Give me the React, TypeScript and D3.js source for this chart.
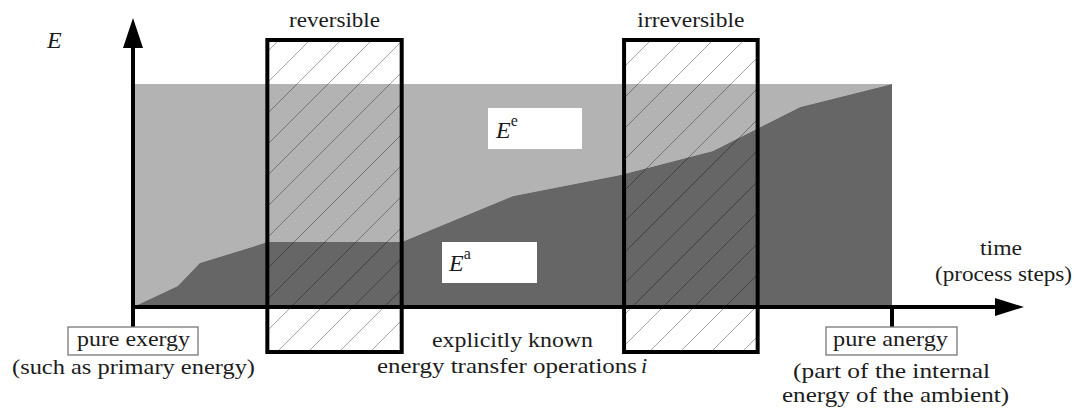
import React from "react";
import * as d3 from "d3";

// ---- data (normalised process time, energy shares) ----
const processTime = [0, 0.059, 0.088, 0.177, 0.354, 0.501, 0.642, 0.764, 0.879, 1];
const anergyShare = [0, 0.094, 0.197, 0.291, 0.291, 0.498, 0.592, 0.7, 0.897, 1];
const totalEnergy = 1;
const operationNames = ["reversible", "irreversible"];
const operationStart = [0.177, 0.647];
const operationEnd = [0.354, 0.823];

const W = 1074;
const H = 409;
const FONT = "Liberation Serif, serif";
const TXT = "#1c1c1c";
const FS = 22;

export default function App() {
  const x = d3.scaleLinear().domain([0, 1]).range([133, 892]);
  const y = d3.scaleLinear().domain([0, totalEnergy]).range([307, 84]);

  const pts = processTime.map((t, i) => ({ t, a: anergyShare[i] }));
  const exergyArea = d3
    .area<{ t: number; a: number }>()
    .x((d) => x(d.t))
    .y0((d) => y(d.a))
    .y1(() => y(totalEnergy))(pts) as string;
  const anergyArea = d3
    .area<{ t: number; a: number }>()
    .x((d) => x(d.t))
    .y0(() => y(0))
    .y1((d) => y(d.a))(pts) as string;

  const boxTop = 40;
  const boxBottom = 352;
  const x0 = x(0);
  const xEnd = x(1);
  const y0 = y(0);

  const t = (s: string, xs: number, yb: number, len?: number, extra: any = {}) => (
    <text
      x={xs}
      y={yb}
      style={{ fontFamily: FONT }}
      fontSize={FS}
      fill={TXT}
      {...(len ? { textLength: len, lengthAdjust: "spacingAndGlyphs" } : {})}
      {...extra}
    >
      {s}
    </text>
  );

  return (
    <svg
      width={W}
      height={H}
      style={{ position: "absolute", left: 0, top: 0, background: "#fff" }}
    >
      <defs>
        <pattern id="hatch" patternUnits="userSpaceOnUse" width={31} height={31} x={0} y={9}>
          <path
            d="M0,31 L31,0 M-8,8 L8,-8 M23,39 L39,23"
            stroke="#000"
            strokeOpacity={0.45}
            strokeWidth={0.8}
          />
        </pattern>
      </defs>

      {/* energy areas */}
      <path d={exergyArea} fill="#b3b3b3" />
      <path d={anergyArea} fill="#666666" />

      {/* operation boxes */}
      {operationNames.map((name, i) => {
        const bx0 = x(operationStart[i]);
        const bx1 = x(operationEnd[i]);
        return (
          <g key={name}>
            <rect x={bx0} y={boxTop} width={bx1 - bx0} height={boxBottom - boxTop} fill="url(#hatch)" />
            <rect
              x={bx0}
              y={boxTop}
              width={bx1 - bx0}
              height={boxBottom - boxTop}
              fill="none"
              stroke="#000"
              strokeWidth={4}
            />
            <text
              x={(bx0 + bx1) / 2}
              y={27}
              textAnchor="middle"
              style={{ fontFamily: FONT }}
              fontSize={FS}
              fill={TXT}
              textLength={i === 0 ? 91 : 107}
              lengthAdjust="spacingAndGlyphs"
            >
              {name}
            </text>
          </g>
        );
      })}

      {/* axes */}
      <line x1={x0} y1={327} x2={x0} y2={40} stroke="#000" strokeWidth={4} />
      <path d={`M${x0},18 L${x0 - 10},48 L${x0 + 10},48 Z`} fill="#000" />
      <line x1={x0 - 2} y1={y0} x2={998} y2={y0} stroke="#000" strokeWidth={4} />
      <path d={`M1024,${y0} L995,${y0 - 9} L995,${y0 + 9} Z`} fill="#000" />
      <line x1={xEnd} y1={y0} x2={xEnd} y2={327} stroke="#000" strokeWidth={4} />

      {/* axis labels */}
      <text x={47} y={48} style={{ fontFamily: FONT }} fontStyle="italic" fontSize={24} fill={TXT}>
        E
      </text>
      {t("time", 980, 255, 42)}
      {t("(process steps)", 935, 281, 137)}

      {/* E^e and E^a labels */}
      <rect x={488} y={108} width={94} height={41} fill="#fff" />
      <text x={496} y={138} style={{ fontFamily: FONT }} fontSize={24} fill={TXT}>
        <tspan fontStyle="italic">E</tspan>
        <tspan fontSize={16} dy={-12}>e</tspan>
      </text>
      <rect x={442} y={242} width={95} height={41} fill="#fff" />
      <text x={449} y={271} style={{ fontFamily: FONT }} fontSize={24} fill={TXT}>
        <tspan fontStyle="italic">E</tspan>
        <tspan fontSize={16} dy={-12}>a</tspan>
      </text>

      {/* bottom annotations */}
      <rect x={68} y={327} width={130} height={28} fill="#fff" stroke="#777" strokeWidth={1.3} />
      {t("pure exergy", 77, 346, 113)}
      {t("(such as primary energy)", 12, 374, 243)}

      {t("explicitly known", 432, 347, 161)}
      {t("energy transfer operations", 377, 373, 260)}
      <text x={641} y={373} style={{ fontFamily: FONT }} fontStyle="italic" fontSize={FS} fill={TXT}>
        i
      </text>

      <rect x={826} y={327} width={131} height={28} fill="#fff" stroke="#777" strokeWidth={1.3} />
      {t("pure anergy", 833, 346, 115)}
      {t("(part of the internal", 793, 378, 197)}
      {t("energy of the ambient)", 782, 402, 227)}
    </svg>
  );
}
